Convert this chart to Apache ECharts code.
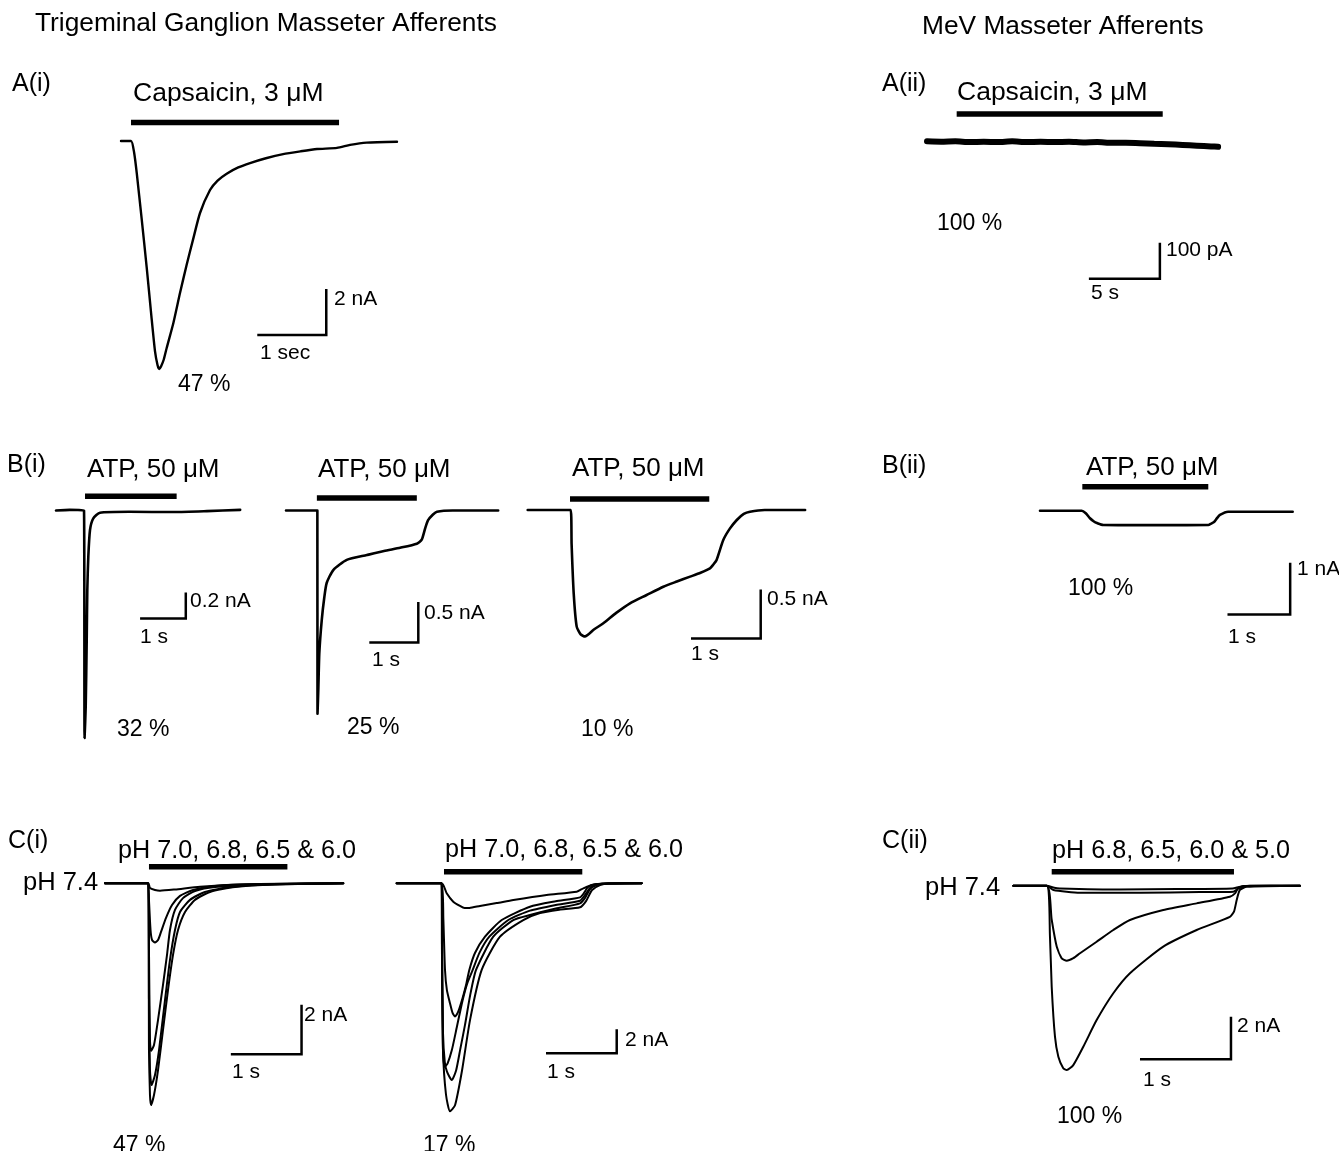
<!DOCTYPE html>
<html><head><meta charset="utf-8">
<script src="https://cdn.jsdelivr.net/npm/echarts@6/dist/echarts.min.js"></script>
<style>html,body{margin:0;padding:0;background:#fff}#c{width:1339px;height:1151px}</style>
</head><body><div id="c"></div>
<script>
// ================= DATA (time in s, current in nA unless noted) =================
// A(i) Trigeminal ganglion, capsaicin 3 uM
const traceA1 = [[0,0],[0.145,0],[0.19,-0.5],[0.228,-1.39],[0.30,-3.4],[0.372,-5.48],[0.44,-7.6],[0.493,-9.15],[0.53,-9.75],[0.555,-9.91],[0.58,-9.8],[0.62,-9.5],[0.662,-9.0],[0.76,-7.9],[0.855,-6.61],[0.95,-5.4],[1.043,-4.30],[1.145,-3.13],[1.29,-2.13],[1.40,-1.72],[1.532,-1.42],[1.70,-1.15],[1.87,-0.96],[2.1,-0.75],[2.35,-0.57],[2.6,-0.45],[2.84,-0.35],[3.13,-0.30],[3.32,-0.17],[3.56,-0.07],[4.0,-0.03]];
const appA1 = [0.145, 3.16];
const scaleA1 = [1, 2];            // 1 sec, 2 nA
// A(ii) MeV, capsaicin 3 uM (current in pA)
const traceA2 = [[0,1],[1,0],[2,1],[3,-1],[4,0],[5,-1],[6,1],[7,-1],[8,0],[9,-1],[10,0],[11,-2],[12,-1],[13,-3],[14,-3],[15,-4],[16,-6],[17,-7],[18,-9],[19,-11],[20,-13],[20.5,-14]];
const appA2 = [2.09, 16.6];
const scaleA2 = [5, 100];          // 5 s, 100 pA
// B(i) ATP 50 uM, three TG neurons
const traceB1a = [[0,0],[0.3,0.005],[0.613,0],[0.625,-1.75],[0.65,-1.51],[0.672,-1.0],[0.685,-0.61],[0.707,-0.355],[0.744,-0.15],[0.816,-0.06],[0.963,-0.017],[1.6,-0.01],[2.6,-0.012],[3.3,-0.005],[4.03,0.005]];
const traceB1b = [[0,0],[0.64,0],[0.643,-2.51],[0.66,-2.2],[0.68,-1.76],[0.73,-1.35],[0.78,-1.08],[0.83,-0.895],[0.965,-0.735],[1.24,-0.61],[1.65,-0.55],[2.0,-0.50],[2.33,-0.46],[2.67,-0.41],[2.77,-0.36],[2.84,-0.22],[2.90,-0.12],[3.0,-0.05],[3.08,-0.015],[3.4,0],[4.33,0]];
const traceB1c = [[0,0],[0.617,0],[0.63,-0.35],[0.66,-0.85],[0.703,-1.19],[0.76,-1.27],[0.822,-1.29],[0.95,-1.22],[1.085,-1.156],[1.27,-1.05],[1.468,-0.952],[1.7,-0.87],[1.946,-0.783],[2.14,-0.73],[2.33,-0.68],[2.48,-0.64],[2.615,-0.595],[2.66,-0.56],[2.71,-0.51],[2.806,-0.306],[2.9,-0.19],[3.0,-0.102],[3.1,-0.04],[3.19,-0.017],[3.4,0],[3.98,0]];
const appB1a = [0.635, 2.64], appB1b = [0.63, 2.67], appB1c = [0.607, 2.605];
const scaleB1a = [1, 0.2], scaleB1b = [1, 0.5], scaleB1c = [1, 0.5];
// B(ii) MeV ATP 50 uM
const traceB2 = [[0,0],[0.665,0],[0.73,-0.05],[0.797,-0.147],[0.86,-0.21],[0.91,-0.24],[1.01,-0.277],[1.5,-0.28],[2.0,-0.28],[2.684,-0.277],[2.73,-0.25],[2.775,-0.22],[2.82,-0.15],[2.87,-0.083],[3.0,-0.02],[4.03,-0.02]];
const appB2 = [0.675, 2.684];
const scaleB2 = [1, 1];
// C(i) first TG neuron, pH steps
const traceC1a_1 = [[0,0],[0.612,0],[0.636,-0.19],[0.707,-0.27],[0.778,-0.30],[0.99,-0.25],[1.344,-0.14],[1.91,-0.05],[3.37,0]];
const traceC1a_2 = [[0,0],[0.612,0],[0.622,-0.68],[0.644,-1.89],[0.665,-2.29],[0.707,-2.40],[0.75,-2.30],[0.792,-1.97],[0.863,-1.40],[0.948,-0.88],[1.061,-0.51],[1.245,-0.27],[1.556,-0.11],[2.19,-0.03],[3.37,0]];
const traceC1a_3 = [[0,0],[0.612,0],[0.622,-2.7],[0.636,-6.34],[0.651,-6.79],[0.693,-6.55],[0.75,-5.53],[0.82,-4.12],[0.877,-2.9],[0.919,-1.89],[0.99,-1.08],[1.103,-0.60],[1.273,-0.31],[1.556,-0.15],[2.19,-0.05],[3.37,0]];
const traceC1a_4 = [[0,0],[0.612,0],[0.622,-4.72],[0.636,-7.56],[0.658,-8.17],[0.707,-7.76],[0.764,-6.75],[0.849,-4.72],[0.919,-3.10],[0.99,-1.89],[1.061,-1.16],[1.202,-0.67],[1.414,-0.35],[1.768,-0.15],[2.33,-0.05],[3.37,0]];
const traceC1a_5 = [[0,0],[0.612,0],[0.622,-6.75],[0.636,-8.57],[0.651,-8.98],[0.693,-8.57],[0.75,-7.56],[0.82,-5.94],[0.891,-4.32],[0.962,-2.9],[1.033,-1.89],[1.132,-1.16],[1.273,-0.67],[1.485,-0.35],[1.839,-0.15],[2.4,-0.05],[3.37,0]];
const appC1a = [0.622, 2.58];
const scaleC1a = [1, 2];
// C(i) second TG neuron
const traceC1b_1 = [[0,0],[0.636,0],[0.707,-0.83],[0.8,-1.53],[0.895,-1.89],[0.96,-2.06],[1.03,-2.05],[1.178,-1.89],[1.414,-1.65],[1.65,-1.39],[2.12,-0.97],[2.546,-0.7],[2.64,-0.42],[2.734,-0.2],[2.83,-0.08],[3.0,-0.02],[3.465,0]];
const traceC1b_2 = [[0,0],[0.636,0],[0.66,-3],[0.683,-7.2],[0.71,-8.9],[0.754,-10.0],[0.79,-10.8],[0.825,-11.1],[0.87,-10.7],[0.93,-9.6],[0.98,-8.5],[1.027,-7.22],[1.107,-5.81],[1.249,-4.45],[1.485,-3.06],[1.885,-1.95],[2.25,-1.5],[2.593,-1.17],[2.65,-0.8],[2.706,-0.31],[2.8,-0.08],[3.0,-0.01],[3.465,0]];
const traceC1b_3 = [[0,0],[0.636,0],[0.645,-8],[0.655,-14.0],[0.68,-15.3],[0.72,-15.0],[0.78,-13.9],[0.85,-12.0],[0.93,-9.8],[1.0,-8.3],[1.075,-7.22],[1.17,-5.8],[1.31,-4.45],[1.579,-3.06],[1.885,-2.28],[2.25,-1.8],[2.593,-1.45],[2.664,-0.97],[2.735,-0.39],[2.833,-0.08],[3.0,-0.01],[3.465,0]];
const traceC1b_4 = [[0,0],[0.636,0],[0.641,-6],[0.655,-12.5],[0.68,-14.9],[0.711,-15.7],[0.778,-16.4],[0.84,-15.6],[0.9,-13.8],[0.966,-11.8],[1.04,-9.3],[1.122,-7.22],[1.366,-4.45],[1.649,-3.06],[1.885,-2.64],[2.25,-2.1],[2.593,-1.67],[2.664,-1.22],[2.735,-0.47],[2.847,-0.1],[3.0,-0.01],[3.465,0]];
const traceC1b_5 = [[0,0],[0.636,0],[0.64,-5.56],[0.655,-13.9],[0.697,-17.6],[0.754,-19.0],[0.825,-18.5],[0.924,-15.6],[1.037,-11.4],[1.202,-7.22],[1.461,-4.45],[1.79,-3.06],[2.027,-2.48],[2.3,-2.2],[2.593,-2.0],[2.678,-1.48],[2.763,-0.56],[2.876,-0.14],[3.0,-0.02],[3.465,0]];
const appC1b = [0.669, 2.625];
const scaleC1b = [1, 2];
// C(ii) MeV neuron
const traceC2_1 = [[0,0],[0.367,0],[0.45,-0.1],[0.513,-0.13],[1.17,-0.18],[1.8,-0.16],[2.41,-0.13],[2.48,-0.06],[2.55,-0.01],[3.15,0]];
const traceC2_2 = [[0,0],[0.367,0],[0.44,-0.2],[0.733,-0.33],[1.4,-0.33],[2.05,-0.3],[2.418,-0.28],[2.47,-0.14],[2.52,-0.06],[2.6,0],[3.15,0]];
const traceC2_3 = [[0,0],[0.367,0],[0.422,-1.6],[0.477,-2.86],[0.532,-3.41],[0.587,-3.52],[0.66,-3.4],[0.733,-3.17],[0.916,-2.63],[1.099,-2.08],[1.282,-1.61],[1.648,-1.14],[2.015,-0.83],[2.38,-0.52],[2.436,-0.36],[2.47,-0.12],[2.53,-0.01],[3.15,0]];
const traceC2_4 = [[0,0],[0.367,0],[0.403,-2.39],[0.422,-4.74],[0.458,-7.09],[0.495,-8.03],[0.549,-8.57],[0.587,-8.65],[0.659,-8.42],[0.769,-7.56],[0.916,-6.31],[1.099,-5.05],[1.282,-4.11],[1.648,-2.86],[2.015,-2.08],[2.38,-1.46],[2.425,-1.22],[2.455,-0.67],[2.49,-0.2],[2.565,-0.05],[3.15,0]];
const appC2 = [0.422, 2.425];
const scaleC2 = [1, 2];

// ================= LAYOUT =================
const FONT = '"Liberation Sans", Arial, sans-serif';
const panels = [
  {o:[121,141], px:[69,23], t:[-0.5,4.5], i:[-11,2], traces:[traceA1], lw:2.4, app:appA1, lvl:0.8, scale:scaleA1, at:[1.975,-8.43]},
  {o:[927,141.7], px:[14.2,0.36], t:[-1,22], i:[-420,120], traces:[traceA2], lw:6, app:appA2, lvl:77, scale:scaleA2, at:[11.4,-381]},
  {o:[56,510.5], px:[45.7,130], t:[-0.2,4.3], i:[-1.9,0.3], traces:[traceB1a], lw:2.6, app:appB1a, lvl:0.11, scale:scaleB1a, at:[1.84,-0.83]},
  {o:[286,510.5], px:[49,81], t:[-0.2,4.5], i:[-2.7,0.3], traces:[traceB1b], lw:2.6, app:appB1b, lvl:0.154, scale:scaleB1b, at:[1.70,-1.63]},
  {o:[527.7,510], px:[69.7,98], t:[-0.2,4.2], i:[-1.5,0.3], traces:[traceB1c], lw:2.6, app:appB1c, lvl:0.112, scale:scaleB1c, at:[2.343,-1.31]},
  {o:[1040,510.7], px:[62.7,51.6], t:[-0.2,4.2], i:[-2.2,0.6], traces:[traceB2], lw:2.6, app:appB2, lvl:0.465, scale:scaleB2, at:[2.99,-2.01]},
  {o:[105,883.3], px:[70.7,24.7], t:[-0.2,3.6], i:[-9.5,1], traces:[traceC1a_1,traceC1a_2,traceC1a_3,traceC1a_4,traceC1a_5], lw:2, app:appC1a, lvl:0.67, scale:scaleC1a, at:[1.78,-6.92]},
  {o:[396.7,883.3], px:[70.7,12], t:[-0.2,3.6], i:[-20,1.5], traces:[traceC1b_1,traceC1b_2,traceC1b_3,traceC1b_4,traceC1b_5], lw:2, app:appC1b, lvl:0.97, scale:scaleC1b, at:[2.112,-14.17]},
  {o:[1013.3,885.7], px:[91,21.3], t:[-0.2,3.3], i:[-9,1], traces:[traceC2_1,traceC2_2,traceC2_3,traceC2_4], lw:2, app:appC2, lvl:0.657, scale:scaleC2, at:[1.392,-8.15]}
];
// text: [text, x(left), y(cap centre), size]
const texts = [
  ['Trigeminal Ganglion Masseter Afferents',35,24,26.3],['MeV Masseter Afferents',922,27,26.3],
  ['A(i)',12,84,25],['A(ii)',882,84,25],['B(i)',7,465,25],['B(ii)',882,466,25],['C(i)',8,841,25],['C(ii)',882,841,25],
  ['Capsaicin, 3 μM',133,94,26.5],['Capsaicin, 3 μM',957,93,26.5],
  ['ATP, 50 μM',87,470,26],['ATP, 50 μM',318,470,26],['ATP, 50 μM',572,469,26],['ATP, 50 μM',1086,468,26],
  ['pH 7.0, 6.8, 6.5 & 6.0',118,851,25.2],['pH 7.0, 6.8, 6.5 & 6.0',445,850,25.2],['pH 6.8, 6.5, 6.0 & 5.0',1052,851,25.2],
  ['pH 7.4',23,883,25.5],['pH 7.4',925,888,25.5],
  ['2 nA',334,299,21],['1 sec',260,353,21],['100 pA',1166,250,21],['5 s',1091,293,21],
  ['0.2 nA',190,601,21],['1 s',140,637,21],['0.5 nA',424,613,21],['1 s',372,660,21],['0.5 nA',767,599,21],['1 s',691,654,21],
  ['1 nA',1297,569,21],['1 s',1228,637,21],['2 nA',304,1015,21],['1 s',232,1072,21],['2 nA',625,1040,21],['1 s',547,1072,21],
  ['2 nA',1237,1026,21],['1 s',1143,1080,21],
  ['47 %',178,385,23],['100 %',937,224,23],['32 %',117,730,23],['25 %',347,728,23],['10 %',581,730,23],['100 %',1068,589,23],
  ['47 %',113,1146,23],['17 %',423,1146,23],['100 %',1057,1117,23]
];

const grid = [], xAxis = [], yAxis = [], series = [];
panels.forEach((p, k) => {
  const [x0, y0] = p.o, [pxs, pxi] = p.px;
  grid.push({left: x0 + p.t[0]*pxs, top: y0 - p.i[1]*pxi, width: (p.t[1]-p.t[0])*pxs, height: (p.i[1]-p.i[0])*pxi, show:false});
  xAxis.push({type:'value', gridIndex:k, min:p.t[0], max:p.t[1], show:false});
  yAxis.push({type:'value', gridIndex:k, min:p.i[0], max:p.i[1], show:false});
  const base = {type:'line', xAxisIndex:k, yAxisIndex:k, symbol:'none', silent:true, animation:false, clip:false};
  p.traces.forEach(tr => series.push(Object.assign({}, base, {data: tr, smooth: 0.2, lineStyle:{color:'#000', width:p.lw, cap:'round', join:'round'}})));
  series.push(Object.assign({}, base, {data: [[p.app[0], p.lvl],[p.app[1], p.lvl]], lineStyle:{color:'#000', width:5.5, cap:'butt'}}));
  const [sx, sy] = p.at, [dt, di] = p.scale;
  series.push(Object.assign({}, base, {data: [[sx, sy],[sx+dt, sy],[sx+dt, sy+di]], lineStyle:{color:'#000', width:2.5, cap:'butt', join:'miter'}}));
});

const graphic = texts.map(([s, x, y, fs]) => ({type:'text', x, y, silent:true,
  style:{text:s, font: fs + 'px ' + FONT, fill:'#000', align:'left', verticalAlign:'middle'}}));

const chart = echarts.init(document.getElementById('c'), null, {renderer:'canvas'});
chart.setOption({backgroundColor:'#fff', animation:false, grid, xAxis, yAxis, series, graphic});
</script></body></html>
